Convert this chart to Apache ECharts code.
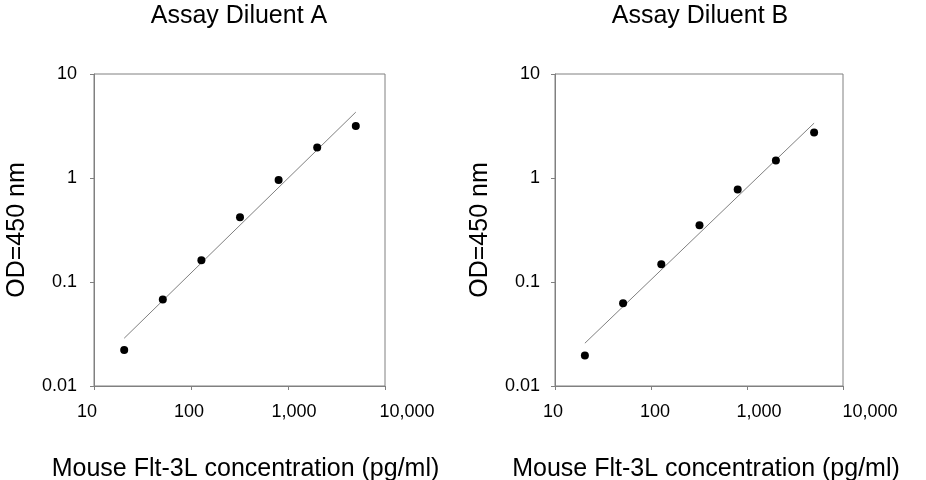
<!DOCTYPE html>
<html>
<head>
<meta charset="utf-8">
<script src="https://cdn.jsdelivr.net/npm/echarts@6/dist/echarts.min.js"></script>
<style>
  html, body { margin: 0; padding: 0; background: #fff; }
  #chart { width: 926px; height: 480px; }
</style>
</head>
<body>
<div id="chart"></div>
<script>
// concentrations (pg/ml) of the standard points
const conc = [20.48, 51.2, 128, 320, 800, 2000, 5000];
// OD readings, diluent A and B
const odA = [0.0222, 0.0677, 0.162, 0.42, 0.955, 1.97, 3.16];
const odB = [0.0197, 0.0625, 0.148, 0.352, 0.774, 1.47, 2.74];
// fitted line end points
const fitConc = [20.48, 5000];
const fitA = [0.0288, 4.3];
const fitB = [0.0258, 3.37];
// tick labels
const xTicks = {10: '10', 100: '100', 1000: '1,000', 10000: '10,000'};
const yTicks = {0.01: '0.01', 0.1: '0.1', 1: '1', 10: '10'};

const FONT = "'Liberation Sans', Arial, sans-serif";
const GREY = '#808080';

function pairs(xs, ys) {
    return xs.map((x, i) => [x, ys[i]]);
}

function keyOf(v) {
    return Math.round(Math.log10(v));
}

// small sideways nudges of the x labels, as in the source figure
function xAxisFor(idx, shifts, nameShift) {
    const rich = {};
    shifts.forEach((s, i) => {
        rich['s' + i] = {
            fontSize: 18, fontFamily: FONT, color: '#000',
            padding: s >= 0 ? [0, 0, 0, 2 * s] : [0, -2 * s, 0, 0]
        };
    });
    return {
        type: 'log', logBase: 10, min: 10, max: 10000, gridIndex: idx,
        name: 'Mouse Flt-3L concentration (pg/ml)',
        nameLocation: 'middle', nameGap: 71,
        nameTextStyle: {
            fontSize: 25, fontFamily: FONT, color: '#000',
            padding: [0, 0, 0, 2 * nameShift]
        },
        axisLine: { lineStyle: { color: GREY, width: 1 } },
        axisTick: { length: 4, lineStyle: { color: GREY } },
        minorTick: { show: false },
        splitLine: { show: false },
        axisLabel: {
            margin: 17,
            rich: rich,
            formatter: v => {
                const k = keyOf(v) - 1;
                return '{s' + k + '|' + (xTicks[Math.pow(10, k + 1)] || '') + '}';
            }
        }
    };
}

function yAxisFor(idx, margin, gap) {
    return {
        type: 'log', logBase: 10, min: 0.01, max: 10, gridIndex: idx,
        name: 'OD=450 nm',
        nameLocation: 'middle', nameGap: gap,
        nameTextStyle: { fontSize: 25, fontFamily: FONT, color: '#000' },
        axisLine: { lineStyle: { color: GREY, width: 1 } },
        axisTick: { length: 4, lineStyle: { color: GREY } },
        splitLine: { show: false },
        axisLabel: {
            margin: margin, fontSize: 18, fontFamily: FONT, color: '#000',
            formatter: v => yTicks[Math.pow(10, keyOf(v))] || ''
        }
    };
}

function dots(idx, ys) {
    return {
        type: 'scatter', xAxisIndex: idx, yAxisIndex: idx,
        data: pairs(conc, ys), symbolSize: 8,
        itemStyle: { color: '#000', opacity: 1 }, z: 3
    };
}

function fit(idx, ys) {
    return {
        type: 'line', xAxisIndex: idx, yAxisIndex: idx,
        data: pairs(fitConc, ys), showSymbol: false,
        lineStyle: { color: GREY, width: 1 }, z: 2
    };
}

const chart = echarts.init(document.getElementById('chart'));
chart.setOption({
    backgroundColor: '#fff',
    animation: false,
    title: [
        { text: 'Assay Diluent A', left: 239, top: 4, textAlign: 'center', padding: 0,
          textStyle: { fontSize: 25, fontWeight: 'normal', fontFamily: FONT, color: '#000' } },
        { text: 'Assay Diluent B', left: 700, top: 4, textAlign: 'center', padding: 0,
          textStyle: { fontSize: 25, fontWeight: 'normal', fontFamily: FONT, color: '#000' } }
    ],
    grid: [
        { left: 94, top: 74, width: 291, height: 312, show: true, borderColor: GREY, borderWidth: 1,
          containLabel: false, outerBoundsMode: 'none' },
        { left: 555, top: 74, width: 288, height: 312, show: true, borderColor: GREY, borderWidth: 1,
          containLabel: false, outerBoundsMode: 'none' }
    ],
    xAxis: [
        xAxisFor(0, [-7, -2, 6, 22], 6),
        xAxisFor(1, [-2, 4, 12, 27], 7)
    ],
    yAxis: [
        yAxisFor(0, 17, 64),
        yAxisFor(1, 15, 62)
    ],
    series: [
        fit(0, fitA), dots(0, odA),
        fit(1, fitB), dots(1, odB)
    ]
});
window.onresize = function () {
    chart.resize();
};
</script>
</body>
</html>
